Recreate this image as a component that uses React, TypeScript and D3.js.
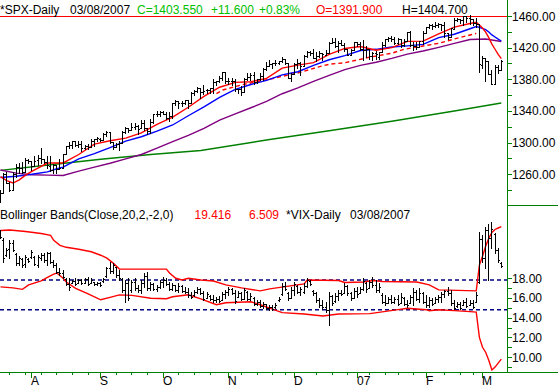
import React from "react";
import * as d3 from "d3";

// ---------- SPX daily OHLC (bar index 0 = 2006-07-18 ... 160 = 2007-03-08) ----------
const spxOpen = [
1234.5,1236.7,1259.8,1249.1,1240.3,1260.9,1268.9,1268.4,1263.2,1278.6,
1276.7,1270.9,1278.0,1280.3,1279.3,1275.7,1271.1,1265.7,1271.6,1266.7,
1268.2,1285.3,1295.4,1297.5,1302.3,1297.5,1298.7,1292.9,1295.9,1295.1,
1301.6,1304.3,1304.0,1303.8,1311.0,1313.0,1300.2,1294.0,1298.9,1299.5,
1313.0,1318.0,1316.3,1319.7,1321.2,1318.3,1324.9,1318.0,1314.8,1326.4,
1336.1,1336.6,1339.2,1335.8,1331.3,1333.8,1349.8,1353.2,1349.6,1350.6,
1353.3,1349.9,1362.8,1365.6,1369.1,1364.0,1365.9,1366.9,1368.6,1377.0,
1377.4,1382.2,1388.9,1377.9,1377.9,1377.8,1367.4,1367.3,1364.3,1379.8,
1382.5,1385.4,1376.9,1380.6,1384.4,1392.9,1396.5,1399.8,1401.2,1400.4,
1402.7,1405.9,1400.9,1381.6,1386.1,1399.5,1400.6,1396.7,1409.1,1414.4,
1412.9,1407.3,1409.8,1413.0,1411.3,1413.2,1425.5,1427.1,1422.4,1425.5,
1423.2,1418.1,1410.8,1416.6,1426.8,1424.7,1418.0,1416.6,1418.3,1409.3,
1412.8,1408.7,1414.8,1423.8,1430.7,1431.8,1430.6,1426.4,1430.5,1422.9,
1427.9,1440.1,1423.9,1422.0,1420.6,1428.7,1437.9,1445.9,1448.3,1447.4,
1448.3,1450.0,1448.3,1438.0,1433.2,1443.9,1455.2,1456.8,1455.5,1459.6,
1457.3,1456.2,1451.0,1449.3,1398.6,1406.8,1403.2,1387.1,1374.1,1395.0,
1391.9];
const spxHigh = [
1239.9,1261.8,1262.6,1250.0,1262.5,1272.4,1273.9,1275.9,1280.4,1278.7,
1276.7,1283.4,1283.9,1292.9,1279.3,1282.8,1283.7,1272.9,1271.6,1278.9,
1286.2,1296.2,1300.8,1302.3,1302.3,1302.5,1301.5,1297.2,1298.9,1305.0,
1305.0,1306.7,1306.1,1312.0,1314.7,1313.0,1301.3,1300.1,1302.4,1314.3,
1319.9,1318.0,1324.7,1324.9,1322.0,1328.5,1328.2,1318.0,1329.4,1336.6,
1340.1,1340.3,1339.9,1338.5,1338.3,1350.2,1353.8,1353.2,1352.7,1354.2,
1353.9,1363.8,1366.6,1370.2,1369.1,1372.9,1368.1,1368.7,1380.0,1377.8,
1383.6,1389.5,1388.9,1381.2,1381.2,1381.0,1368.4,1371.7,1381.4,1388.2,
1388.6,1388.9,1381.0,1387.6,1394.5,1401.4,1403.8,1401.2,1404.4,1403.5,
1407.9,1405.9,1400.9,1387.6,1401.1,1406.3,1402.5,1411.2,1415.3,1415.9,
1418.3,1414.1,1415.6,1413.8,1416.6,1427.2,1431.6,1431.8,1428.3,1429.1,
1426.4,1418.8,1417.9,1427.7,1427.3,1427.0,1429.4,1421.8,1418.3,1414.9,
1415.6,1415.0,1427.1,1431.2,1433.9,1435.3,1432.9,1431.6,1431.4,1431.3,
1440.1,1440.7,1427.3,1426.9,1428.8,1441.6,1446.6,1449.3,1449.4,1452.9,
1451.6,1450.5,1452.5,1439.1,1444.4,1457.7,1457.0,1456.8,1460.5,1459.6,
1461.6,1456.2,1456.9,1449.3,1409.5,1406.8,1403.4,1391.9,1397.9,1397.9,
1404.7];
const spxLow = [
1224.5,1236.7,1249.1,1238.9,1240.3,1257.2,1261.9,1261.9,1263.2,1274.3,
1265.7,1270.7,1271.3,1273.8,1273.8,1268.4,1264.7,1261.3,1262.1,1266.7,
1268.2,1285.3,1292.7,1293.6,1295.5,1294.4,1289.8,1291.4,1292.5,1293.9,
1295.3,1302.2,1302.4,1303.8,1308.8,1299.3,1292.1,1294.0,1290.9,1299.5,
1312.0,1313.3,1316.3,1317.2,1310.9,1318.3,1316.0,1310.9,1311.6,1325.3,
1333.5,1333.8,1335.6,1330.3,1327.1,1331.5,1347.8,1344.2,1346.6,1348.6,
1343.2,1349.9,1360.5,1364.5,1356.9,1360.9,1362.1,1362.1,1363.0,1372.4,
1376.0,1379.5,1375.9,1373.5,1372.2,1365.0,1362.2,1360.0,1364.3,1379.2,
1379.3,1373.8,1375.3,1378.8,1379.1,1392.1,1396.5,1394.6,1397.9,1399.0,
1402.3,1399.3,1381.4,1377.8,1386.1,1393.8,1385.9,1396.7,1408.8,1411.1,
1406.8,1403.7,1408.6,1404.8,1411.1,1413.2,1425.5,1420.7,1414.9,1423.5,
1415.9,1410.3,1410.5,1416.6,1422.1,1416.8,1403.9,1408.4,1405.8,1403.9,
1405.4,1405.9,1414.8,1422.3,1428.6,1428.6,1424.2,1425.2,1420.4,1421.7,
1427.9,1422.3,1416.9,1418.5,1420.6,1424.8,1437.9,1444.5,1443.9,1446.4,
1446.2,1442.8,1433.4,1431.4,1433.2,1443.9,1453.2,1451.6,1449.2,1452.0,
1450.5,1448.4,1445.5,1389.4,1393.7,1377.7,1386.9,1373.9,1374.1,1388.1,
1391.9];
const spxClose = [
1236.9,1259.8,1249.1,1240.3,1260.9,1268.9,1268.4,1263.2,1278.6,1276.7,
1270.9,1277.4,1280.3,1279.4,1275.8,1271.5,1265.9,1271.8,1266.7,1268.2,
1285.6,1295.4,1297.5,1302.3,1297.5,1298.8,1292.9,1296.1,1295.1,1301.8,
1304.3,1305.4,1303.8,1311.0,1313.3,1300.3,1294.0,1298.9,1299.5,1313.0,
1318.1,1316.3,1319.7,1321.2,1317.6,1325.2,1318.0,1314.8,1326.4,1336.4,
1336.6,1338.9,1335.8,1331.3,1334.1,1350.2,1353.2,1349.6,1350.7,1353.4,
1349.9,1362.8,1365.6,1369.1,1364.1,1365.8,1366.9,1368.6,1377.0,1377.4,
1382.2,1389.1,1377.3,1377.9,1377.9,1367.8,1367.3,1364.3,1379.8,1382.8,
1385.7,1376.9,1380.9,1384.4,1393.2,1396.6,1399.8,1401.2,1400.5,1402.8,
1406.1,1400.9,1381.4,1386.7,1399.5,1400.6,1396.7,1409.1,1414.8,1412.9,
1407.3,1409.8,1413.0,1411.6,1413.2,1425.5,1427.1,1422.5,1425.6,1423.5,
1418.3,1410.8,1416.9,1426.8,1424.7,1418.3,1416.6,1418.3,1409.7,1412.8,
1412.1,1414.9,1423.8,1430.7,1431.9,1430.6,1426.4,1430.5,1422.9,1427.9,
1440.1,1423.9,1422.2,1420.6,1428.8,1438.2,1445.9,1448.4,1447.0,1448.0,
1450.0,1448.3,1438.1,1433.4,1444.3,1455.3,1456.8,1455.5,1459.7,1457.6,
1456.4,1451.2,1449.4,1399.0,1406.8,1403.2,1387.2,1374.1,1395.4,1392.0,
1403.6];

// moving averages, [bar index, value]
const spxMa10 = [[0,1257],[2,1252],[4,1249],[6,1253],[8,1259],[10,1263.7],[15,1274.2],[20,1274.3],[25,1285.0],[30,1298.2],[35,1302.4],[40,1305.7],[45,1312.4],[50,1323.2],[55,1332.3],[60,1344.7],[65,1358.4],[70,1370.0],[75,1376.2],[80,1377.0],[85,1381.2],[90,1394.2],[95,1398.0],[100,1401.0],[105,1411.4],[110,1419.0],[115,1421.5],[120,1416.7],[125,1420.1],[130,1428.0],[135,1428.2],[140,1437.3],[145,1445.9],[150,1450.5],[152,1452.0],[153,1448.5],[154,1444.8],[155,1439.6],[156,1432.6],[157,1424.5],[158,1418.0],[159,1411.5],[160,1406.2]];
const spxMa20 = [[0,1256],[5,1257.5],[10,1260],[15,1263],[18,1267],[20,1269.0],[25,1279.6],[30,1286.2],[35,1293.7],[40,1302.0],[45,1307.4],[50,1314.5],[55,1322.3],[60,1334.0],[65,1345.3],[70,1357.3],[75,1367.3],[80,1373.5],[85,1378.7],[90,1385.6],[95,1389.6],[100,1397.6],[105,1404.7],[110,1410.0],[115,1416.4],[120,1417.9],[125,1420.8],[130,1422.3],[135,1424.1],[140,1432.6],[145,1437.0],[150,1443.9],[152,1446.7],[153,1445.6],[155,1442.7],[156,1439.8],[157,1436.1],[158,1433.5],[159,1430.7],[160,1428.4]];
const spxMaDashed = [[69,1362],[71,1366.5],[77,1373],[82,1377],[87,1381],[92,1385.5],[96,1389],[101,1395],[105,1399],[110,1401],[114,1404.5],[118,1408],[125,1413],[129,1418],[140,1425.5],[146,1432],[150,1436],[152,1438]];
const spxMa50 = [[0,1265.4],[5,1261.5],[10,1259.5],[15,1259],[20,1258.5],[25,1264],[30,1269],[35,1274],[40,1279.5],[45,1285],[50,1293.0],[55,1301.2],[60,1309.2],[65,1318.1],[70,1328.4],[75,1336.3],[80,1344.1],[85,1352.1],[90,1361.8],[95,1369.2],[100,1377.4],[105,1385.0],[110,1392.2],[115,1397.6],[120,1401.6],[125,1406.4],[130,1411.8],[135,1415.8],[140,1420.4],[145,1425.4],[150,1430.3],[155,1431.0],[160,1427.7]];
const spxMa200 = [[0,1265],[16,1272],[32,1279],[48,1285],[64,1290],[86,1304],[105,1315],[125,1327],[145,1340],[160,1350]];
const spxLevel = 1460;

// ---------- VIX daily (same bar index) ----------
const vixHigh = [
22.85,22.0,21.0,21.84,21.84,20.5,20.2,20.0,20.3,20.0,
20.8,20.2,20.3,20.5,20.5,20.66,20.66,19.8,19.5,19.0,
18.8,17.97,17.97,17.8,17.97,17.87,17.87,17.97,18.14,17.97,
17.63,17.63,17.63,17.97,19.15,19.65,19.5,19.15,18.8,17.97,
17.8,17.97,17.8,17.97,17.3,17.8,18.5,18.6,17.63,17.46,
17.3,17.8,18.14,17.97,17.63,17.46,17.3,17.46,17.3,17.1,
16.96,16.6,16.8,17.1,16.96,16.7,16.6,16.3,16.3,16.1,
16.2,16.6,16.8,17.1,16.96,16.8,16.7,16.6,16.96,16.7,
16.5,16.1,15.78,15.78,15.6,15.4,15.27,15.27,15.45,16.1,
17.46,17.63,16.6,17.1,17.63,17.3,17.1,17.46,17.97,17.8,
16.8,16.6,15.95,15.78,15.6,16.6,16.3,16.45,16.8,16.8,
17.46,17.3,16.6,16.96,17.1,17.1,17.97,17.63,17.8,18.07,
17.8,17.46,16.45,16.3,16.1,16.3,16.1,16.3,16.45,16.1,
15.78,16.3,16.96,16.8,16.96,16.6,16.3,16.1,15.95,16.1,
16.3,16.6,16.8,17.1,16.8,15.78,15.6,15.6,15.78,15.95,
15.78,15.78,16.6,22.6,22.3,23.2,23.5,23.7,22.5,21.0,
19.6];
const vixLow = [
22.0,19.65,20.2,20.0,20.7,19.3,19.3,19.15,19.15,19.65,
20.0,19.3,19.15,19.8,19.65,19.3,19.5,19.15,18.5,18.3,
18.0,17.3,16.8,17.46,17.3,17.46,17.4,17.46,17.3,17.46,
17.3,17.3,17.2,17.63,18.14,18.5,18.5,18.14,17.8,16.6,
15.6,15.78,16.6,16.8,16.6,16.45,17.1,16.8,16.8,16.8,
16.7,16.96,17.1,17.3,16.8,16.8,16.7,16.6,16.6,16.45,
16.1,15.95,16.2,16.45,16.4,15.78,15.95,15.78,15.6,15.6,
15.6,15.78,15.95,16.3,16.4,15.45,16.05,15.78,15.85,15.78,
15.78,15.3,15.3,15.1,15.0,14.9,14.8,14.77,15.0,15.7,
16.3,16.8,15.78,15.95,16.3,16.45,16.3,16.45,17.1,17.3,
16.3,15.6,15.1,14.9,14.6,13.25,15.27,15.6,15.78,16.3,
16.45,16.3,15.78,15.95,16.1,16.45,16.8,16.6,16.96,17.1,
16.6,16.6,15.45,15.27,15.45,15.45,15.45,15.27,15.45,15.27,
15.1,15.45,15.27,15.78,15.6,15.45,15.1,15.1,15.27,15.45,
15.6,15.6,16.1,16.3,15.27,14.9,15.1,14.9,15.27,15.1,
15.27,15.0,15.6,17.5,19.6,19.0,17.8,21.0,20.5,19.6,
19.1];
const vixOpen = [
22.6,21.8,20.3,20.9,21.5,20.4,19.5,19.9,19.4,19.9,
20.1,20.1,19.3,20.0,20.3,19.8,20.5,19.6,19.3,18.6,
18.5,17.9,17.4,17.5,17.7,17.5,17.8,17.5,17.9,17.5,
17.6,17.4,17.5,17.7,18.2,19.0,18.7,19.1,18.3,17.9,
16.8,17.5,16.8,17.6,17.0,16.8,17.5,18.2,17.0,17.4,
16.9,17.1,17.6,17.8,17.4,16.9,17.3,16.8,17.2,16.7,
16.6,16.3,16.3,16.6,16.9,16.5,15.96,16.2,15.9,15.8,
15.9,15.8,16.4,16.6,16.9,16.5,16.1,16.5,15.9,16.6,
15.9,16.0,15.4,15.6,15.2,15.4,15.0,15.1,15.05,15.75,
16.4,17.2,16.5,16.0,16.8,17.2,16.6,16.6,17.2,17.7,
16.7,16.5,15.8,15.3,15.1,14.8,16.2,15.7,16.2,16.5,
16.5,17.2,16.5,16.0,16.7,16.5,16.9,17.5,17.0,17.6,
17.3,16.8,16.3,15.6,15.5,15.9,15.6,15.9,15.5,16.0,
15.4,15.5,16.1,16.6,15.9,16.5,15.6,15.3,15.8,15.5,
15.9,16.1,16.4,16.7,16.5,15.5,15.2,15.4,15.3,15.6,
15.3,15.5,15.6,17.6,21.9,20.0,22.8,22.0,22.4,20.8,
19.5];
const vixClose = [
22.1,20.0,20.8,21.5,20.8,19.5,20.0,19.3,20.1,19.7,
20.6,19.4,20.1,20.3,19.8,20.5,19.6,19.3,18.6,18.5,
18.1,17.4,17.1,17.7,17.4,17.8,17.5,17.9,17.4,17.8,
17.4,17.5,17.3,17.9,19.0,18.7,19.3,18.3,18.0,16.8,
17.5,16.0,17.6,17.0,16.8,17.5,18.2,17.0,17.4,16.9,
17.1,17.6,17.8,17.4,16.9,17.3,16.8,17.2,16.7,16.6,
16.3,16.1,16.6,16.9,16.5,15.9,16.4,15.9,15.8,15.9,
15.7,16.4,16.6,16.9,16.5,15.7,16.5,15.9,16.8,15.9,
16.2,15.4,15.6,15.2,15.4,15.0,15.1,14.9,15.3,15.9,
17.2,16.9,16.0,16.8,17.4,16.6,16.9,17.2,17.8,17.4,
16.5,15.8,15.3,15.1,14.8,16.2,15.5,16.2,16.5,16.4,
17.2,16.5,16.0,16.7,16.4,16.9,17.7,16.9,17.6,17.3,
16.8,17.1,15.6,15.5,15.9,15.6,15.9,15.4,16.1,15.4,
15.3,16.1,16.6,15.9,16.5,15.6,15.3,15.8,15.4,15.9,
16.1,16.4,16.7,16.5,15.5,15.0,15.4,15.0,15.6,15.2,
15.5,15.1,16.3,21.9,20.0,22.8,22.0,23.0,20.8,19.8,
19.2];
const vixUpperBand = [[0,22.8],[3,22.85],[8,22.7],[13,22.5],[16,22.3],[17,21.8],[19,21.3],[21,21.1],[25,20.9],[29,20.65],[32,20.3],[34,20.0],[36,19.5],[38,18.9],[53,18.9],[54,18.5],[56,17.97],[58,17.8],[60,17.97],[64,17.8],[68,17.7],[72,17.3],[77,17.0],[83,16.7],[86,16.9],[97,17.4],[98,17.8],[108,17.75],[110,17.55],[116,17.6],[119,17.75],[122,17.65],[133,17.6],[137,17.3],[140,16.8],[152,16.7],[153,19.3],[154,20.2],[155,21.2],[156,22.0],[157,22.6],[158,22.9],[159,23.05],[160,23.2]];
const vixLowerBand = [[0,17.1],[4,17.0],[7,16.85],[9,17.3],[13,17.7],[15,18.07],[17,18.4],[18,18.5],[20,17.97],[21,17.6],[24,16.95],[28,16.4],[32,15.8],[35,16.05],[38,16.3],[42,16.25],[48,15.95],[53,15.9],[55,16.1],[60,16.3],[64,15.9],[69,15.3],[72,15.5],[80,15.6],[83,15.3],[86,14.95],[90,14.5],[97,14.36],[103,14.16],[108,14.36],[118,14.4],[127,14.8],[130,14.95],[136,14.8],[137,14.7],[140,14.8],[145,14.7],[150,14.6],[152,14.55],[153,12.0],[154,11.0],[155,10.5],[156,9.7],[157,8.7],[158,9.0],[159,9.4],[160,9.8]];
const vixLevels = [17.8, 14.8];

// ---------- axes ----------
const spxTickLabels = [1260, 1300, 1340, 1380, 1420, 1460];
const spxTicks = [1240, 1260, 1280, 1300, 1320, 1340, 1360, 1380, 1400, 1420, 1440, 1460];
const vixTickLabels = [10, 12, 14, 16, 18];
const vixTicks = [9, 10, 11, 12, 13, 14, 15, 16, 17, 18];
const monthTickIdx = [10, 32, 52, 73, 94, 114, 136, 154];
const monthLabels = ["A", "S", "O", "N", "D", "07", "F", "M"];
const weekTickIdx = [3, 8, 13, 18, 23, 28, 37, 42, 47, 57, 62, 67, 77, 82, 87, 91, 101, 106, 111, 118, 123, 127, 132, 142, 147, 151];

const upperHeader = [
  { t: "*SPX-Daily", x: 0, c: "#000000" },
  { t: "03/08/2007", x: 70, c: "#000000" },
  { t: "C=1403.550", x: 137, c: "#00C000" },
  { t: "+11.600", x: 211, c: "#00C000" },
  { t: "+0.83%", x: 259, c: "#00C000" },
  { t: "O=1391.900", x: 316, c: "#FF0000" },
  { t: "H=1404.700", x: 402, c: "#000000" },
];
const lowerHeader = [
  { t: "Bollinger Bands(Close,20,2,-2,0)", x: 0, c: "#000000" },
  { t: "19.416", x: 194.5, c: "#FF0000" },
  { t: "6.509", x: 249, c: "#FF0000" },
  { t: "*VIX-Daily", x: 286, c: "#000000" },
  { t: "03/08/2007", x: 350, c: "#000000" },
];

const FONT = "'Liberation Sans', Arial, Helvetica, sans-serif";
const GREEN = "#008000";

export default function App() {
  const W = 558, H = 389;
  const axisX = 507, baseY = 372, sepY = 205;
  const x = d3.scaleLinear().domain([0, 160]).range([0.5, 501.3]);
  const yU = d3.scaleLinear().domain([1260, 1460]).range([174.3, 16]);
  const yL = d3.scaleLinear().domain([10, 18]).range([357.2, 278]);

  const lineU = d3.line<number[]>().x((d) => x(d[0])).y((d) => yU(d[1]));
  const lineL = d3.line<number[]>().x((d) => x(d[0])).y((d) => yL(d[1]));

  const ohlc = (o: number[], h: number[], l: number[], c: number[], y: (v: number) => number, key: string) =>
    o.map((_, i) => {
      const bx = Math.floor(x(i));
      const yh = Math.round(y(h[i]));
      const yl = Math.round(y(l[i]));
      const yo = Math.round(y(o[i]));
      const yc = Math.round(y(c[i]));
      return (
        <g key={key + i}>
          <rect x={bx} y={yh} width={1} height={Math.max(1, yl - yh + 1)} />
          <rect x={bx - 1} y={Math.min(Math.max(yo, yh), yl)} width={1} height={1} />
          <rect x={bx + 1} y={Math.min(Math.max(yc, yh), yl)} width={1} height={1} />
        </g>
      );
    });

  const lw = 1.4;

  return (
    <div style={{ position: "absolute", left: 0, top: 0, width: W, height: H, background: "#fff" }}>
      <svg width={W} height={H} viewBox={`0 0 ${W} ${H}`} style={{ display: "block", fontFamily: FONT }}>
        <defs>
          <clipPath id="clipU"><rect x={0} y={0} width={axisX} height={sepY} /></clipPath>
          <clipPath id="clipL"><rect x={0} y={sepY} width={axisX} height={baseY - sepY} /></clipPath>
        </defs>
        <rect x={0} y={0} width={W} height={H} fill="#ffffff" />

        {/* ---------- upper panel ---------- */}
        <g clipPath="url(#clipU)">
          <line x1={0} x2={axisX} y1={Math.round(yU(spxLevel)) + 0.5} y2={Math.round(yU(spxLevel)) + 0.5} stroke="#FF0000" strokeWidth={1} shapeRendering="crispEdges" />
          <path d={lineU(spxMa200) || ""} fill="none" stroke="#008000" strokeWidth={lw} />
          <path d={lineU(spxMa50) || ""} fill="none" stroke="#800080" strokeWidth={lw} />
          <path d={lineU(spxMaDashed) || ""} fill="none" stroke="#FF0000" strokeWidth={lw} strokeDasharray="4,3" />
          <path d={lineU(spxMa20) || ""} fill="none" stroke="#0000FF" strokeWidth={lw} />
          <path d={lineU(spxMa10) || ""} fill="none" stroke="#FF0000" strokeWidth={lw} />
          <g fill="#000000" shapeRendering="crispEdges">{ohlc(spxOpen, spxHigh, spxLow, spxClose, yU, "s")}</g>
        </g>
        {upperHeader.map((h) => (
          <text key={h.t} x={h.x} y={13.5} fontSize={12} fill={h.c}>{h.t}</text>
        ))}

        {/* ---------- lower panel ---------- */}
        <g clipPath="url(#clipL)">
          {vixLevels.map((v) => (
            <line key={v} x1={0} x2={axisX} y1={yL(v)} y2={yL(v)} stroke="#000080" strokeWidth={1.5} strokeDasharray="4,3" />
          ))}
          <path d={lineL(vixUpperBand) || ""} fill="none" stroke="#FF0000" strokeWidth={lw} />
          <path d={lineL(vixLowerBand) || ""} fill="none" stroke="#FF0000" strokeWidth={lw} />
          <g fill="#000000" shapeRendering="crispEdges">{ohlc(vixOpen, vixHigh, vixLow, vixClose, yL, "v")}</g>
        </g>
        {lowerHeader.map((h) => (
          <text key={h.t} x={h.x} y={219} fontSize={12} fill={h.c}>{h.t}</text>
        ))}

        {/* ---------- axes ---------- */}
        <g stroke={GREEN} strokeWidth={1} shapeRendering="crispEdges">
          <line x1={axisX + 0.5} x2={axisX + 0.5} y1={0} y2={baseY + 1} />
          <line x1={0} x2={W} y1={baseY + 0.5} y2={baseY + 0.5} />
          <line x1={axisX} x2={W} y1={sepY + 0.5} y2={sepY + 0.5} />
          {spxTicks.map((v) => (
            <line key={"ut" + v} x1={axisX} x2={axisX + 5} y1={Math.round(yU(v)) + 0.5} y2={Math.round(yU(v)) + 0.5} />
          ))}
          {vixTicks.map((v) => (
            <line key={"lt" + v} x1={axisX} x2={axisX + 5} y1={Math.round(yL(v)) + 0.5} y2={Math.round(yL(v)) + 0.5} />
          ))}
          {monthTickIdx.map((k) => (
            <line key={"mt" + k} x1={Math.floor(x(k)) + 0.5} x2={Math.floor(x(k)) + 0.5} y1={baseY} y2={baseY + 6} />
          ))}
          {weekTickIdx.map((k) => (
            <line key={"wt" + k} x1={Math.floor(x(k)) + 0.5} x2={Math.floor(x(k)) + 0.5} y1={baseY} y2={baseY + 3} />
          ))}
        </g>
        {spxTickLabels.map((v) => (
          <text key={"ul" + v} x={axisX + 5} y={yU(v) + 4.5} fontSize={12} fill="#000">{v.toFixed(2)}</text>
        ))}
        {vixTickLabels.map((v) => (
          <text key={"ll" + v} x={axisX + 5} y={yL(v) + 4.5} fontSize={12} fill="#000">{v.toFixed(2)}</text>
        ))}
        {monthTickIdx.map((k, i) => (
          <text key={"ml" + k} x={Math.floor(x(k))} y={385} fontSize={12} fill="#000">{monthLabels[i]}</text>
        ))}
      </svg>
    </div>
  );
}
